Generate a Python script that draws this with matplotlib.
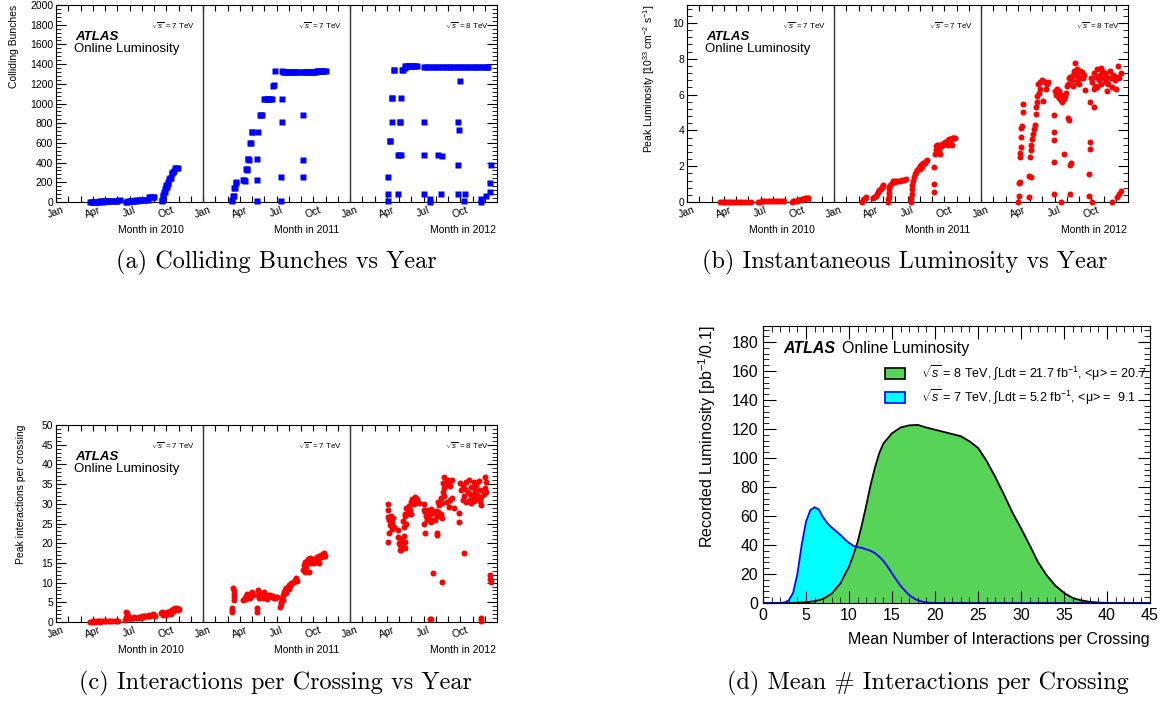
import matplotlib
matplotlib.use('Agg')
import matplotlib.pyplot as plt
import matplotlib.transforms as mtransforms
from matplotlib.ticker import MultipleLocator, FixedLocator
from matplotlib.patches import Rectangle
import numpy as np

plt.rcParams['font.family'] = 'Liberation Sans'
plt.rcParams['mathtext.fontset'] = 'custom'
plt.rcParams['mathtext.rm'] = 'Liberation Sans'
plt.rcParams['mathtext.it'] = 'Liberation Sans:italic'
plt.rcParams['mathtext.bf'] = 'Liberation Sans:bold'

#%% Dados - tempo em meses contados a partir de 1 jan 2010, pares (mes, valor)

month_names = ['Jan', '', '', 'Apr', '', '', 'Jul', '', '', 'Oct', '', '']
years = ['2010', '2011', '2012']
energies = ['7', '7', '8']

# Colliding bunches
bunches_2010 = np.array([
    (2.8, 2), (2.9, 2), (3.0, 3), (3.1, 2), (3.2, 3), (3.3, 4), (3.4, 3), (3.5, 4), (3.6, 6), (3.7, 6),
    (3.8, 4), (3.9, 6), (4.0, 8), (4.1, 6), (4.2, 8), (4.3, 10), (4.5, 8), (4.6, 12), (4.8, 13), (4.9, 10),
    (5.0, 13), (5.2, 16), (5.7, 2), (5.8, 3), (5.9, 6), (6.0, 8), (6.1, 8), (6.2, 13), (6.3, 8), (6.4, 13),
    (6.5, 16), (6.6, 13), (6.8, 16), (6.9, 25), (7.0, 16), (7.2, 25), (7.3, 25), (7.5, 25), (7.6, 48), (7.7, 48),
    (7.8, 50), (7.9, 48), (8.0, 50), (8.63, 8), (8.67, 25), (8.71, 50), (8.76, 75), (8.82, 100), (8.86, 104),
    (8.9, 135), (8.95, 150), (9.01, 175), (9.06, 150), (9.12, 186), (9.18, 204), (9.23, 237), (9.3, 248),
    (9.36, 244), (9.45, 295), (9.5, 294), (9.58, 305), (9.65, 312), (9.72, 348), (9.8, 348), (9.93, 348)])

bunches_2011 = np.array([
    (14.34, 10), (14.4, 20), (14.48, 64), (14.52, 64), (14.56, 139), (14.6, 139), (14.67, 200), (14.7, 194),
    (15.3, 223), (15.37, 223), (15.42, 214), (15.52, 332), (15.57, 332), (15.62, 324), (15.66, 433), (15.7, 433),
    (15.75, 424), (15.84, 602), (15.9, 602), (15.98, 708), (16.02, 708), (16.41, 10), (16.43, 223), (16.43, 433),
    (16.45, 708), (16.65, 883), (16.73, 883), (16.8, 883), (17.0, 1049), (17.1, 1049), (17.2, 1049), (17.3, 1049),
    (17.4, 1049), (17.5, 1049), (17.6, 1049), (17.75, 1180), (17.8, 1191), (17.85, 1327), (18.37, 10),
    (18.37, 254), (18.45, 815), (18.47, 1049), (18.45, 1330), (18.55, 1318), (18.65, 1318), (18.75, 1318),
    (18.85, 1318), (18.95, 1318), (19.05, 1318), (19.15, 1318), (19.25, 1318), (19.35, 1318), (19.45, 1318),
    (19.55, 1318), (19.65, 1318), (19.75, 1318), (20.2, 254), (20.2, 430), (20.2, 880), (20.05, 1318),
    (20.15, 1318), (20.3, 1318), (20.4, 1318), (20.5, 1318), (20.6, 1318), (20.7, 1318), (20.8, 1318),
    (20.9, 1318), (21.0, 1318), (21.1, 1318), (21.2, 1318), (21.3, 1331), (21.4, 1331), (21.5, 1331),
    (21.6, 1331), (21.7, 1331), (21.8, 1331), (21.9, 1331), (22.0, 1331)])

bunches_2012 = np.array([
    (27.08, 13), (27.1, 78), (27.13, 254), (27.27, 623), (27.3, 623), (27.4, 815), (27.42, 1059), (27.45, 1059),
    (27.56, 1340), (27.6, 1340), (27.94, 78), (27.94, 474), (28.0, 474), (28.08, 815), (28.12, 815),
    (28.16, 1059), (28.16, 474), (28.27, 1340), (28.33, 1340), (28.45, 1357), (28.5, 1380), (28.6, 1380),
    (28.7, 1380), (28.8, 1380), (28.9, 1380), (29.0, 1380), (29.1, 1380), (29.2, 1380), (29.3, 1380),
    (29.44, 1380), (30.0, 815), (30.0, 474), (30.0, 78), (30.53, 30), (30.53, 5), (31.2, 474), (31.48, 466),
    (31.43, 78), (30.0, 1374), (30.2, 1374), (30.4, 1374), (30.6, 1374), (30.8, 1374), (31.0, 1374),
    (31.2, 1374), (31.4, 1374), (31.6, 1374), (31.8, 1374), (32.0, 1374), (32.2, 1374), (32.4, 1374),
    (32.6, 1374), (32.8, 1374), (33.0, 1374), (33.2, 1374), (33.4, 1374), (33.6, 1374), (33.8, 1374),
    (34.0, 1374), (34.2, 1374), (34.4, 1374), (34.6, 1374), (34.8, 1374), (35.0, 1374), (35.2, 1374),
    (35.3, 1374), (32.84, 808), (32.9, 728), (32.84, 379), (32.84, 78), (33.0, 1232), (33.39, 78),
    (33.33, 10), (34.69, 5), (34.7, 30), (35.08, 64), (35.45, 101), (35.45, 190), (35.48, 376)])

# Peak luminosity [1e33 cm-2 s-1]
lumi_2010 = np.array([
    (2.7, 0.0), (2.85, 0.0), (3.0, 0.0), (3.1, 0.01), (3.25, 0.0), (3.4, 0.01), (3.55, 0.01), (3.7, 0.01),
    (3.85, 0.01), (4.0, 0.01), (4.15, 0.02), (4.3, 0.02), (4.5, 0.02), (4.7, 0.02), (5.0, 0.02), (5.25, 0.02),
    (5.8, 0.02), (5.95, 0.02), (6.1, 0.03), (6.25, 0.03), (6.4, 0.03), (6.6, 0.03), (6.8, 0.03), (6.95, 0.04),
    (7.1, 0.04), (7.3, 0.04), (7.45, 0.04), (7.6, 0.04), (7.8, 0.04), (7.95, 0.05), (8.55, 0.02), (8.65, 0.04),
    (8.75, 0.06), (8.85, 0.07), (8.95, 0.08), (9.05, 0.1), (9.15, 0.12), (9.25, 0.12), (9.35, 0.15),
    (9.45, 0.15), (9.55, 0.17), (9.65, 0.2), (9.75, 0.2), (9.85, 0.21), (9.9, 0.2)])

lumi_2011 = np.array([
    (14.26, 0.02), (14.35, 0.1), (14.45, 0.15), (14.55, 0.22), (14.65, 0.3), (15.2, 0.2), (15.3, 0.3),
    (15.4, 0.35), (15.5, 0.45), (15.6, 0.55), (15.7, 0.65), (15.8, 0.75), (15.9, 0.85), (16.0, 0.95),
    (16.42, 0.0), (16.44, 0.15), (16.45, 0.3), (16.47, 0.5), (16.5, 0.7), (16.52, 0.85), (16.6, 0.95),
    (16.7, 1.05), (16.8, 1.15), (16.9, 1.2), (17.0, 1.1), (17.1, 1.15), (17.25, 1.2), (17.4, 1.2),
    (17.55, 1.25), (17.7, 1.25), (17.85, 1.3), (18.3, 0.0), (18.32, 0.2), (18.34, 0.45), (18.36, 0.75),
    (18.4, 0.95), (18.45, 1.2), (18.5, 1.4), (18.6, 1.55), (18.7, 1.7), (18.8, 1.8), (18.9, 1.9), (19.0, 2.0),
    (19.1, 2.05), (19.2, 2.1), (19.3, 2.15), (19.4, 2.2), (19.5, 2.3), (19.57, 2.35), (19.0, 1.85),
    (19.2, 1.95), (20.19, 0.55), (20.19, 1.0), (20.19, 1.97), (20.25, 2.7), (20.3, 2.9), (20.35, 3.1),
    (20.4, 3.2), (20.5, 3.2), (20.6, 2.9), (20.65, 2.7), (20.7, 3.1), (20.8, 3.25), (20.9, 3.2), (21.0, 3.3),
    (21.1, 3.35), (21.2, 3.3), (21.3, 3.45), (21.4, 3.5), (21.5, 3.4), (21.6, 3.55), (21.7, 3.6), (21.8, 3.6),
    (21.88, 3.55), (21.6, 3.2), (21.3, 3.2)])

lumi_2012 = np.array([
    (27.05, 0.02), (27.08, 0.33), (27.12, 1.04), (27.16, 1.13), (27.2, 2.53), (27.22, 2.72), (27.25, 3.05),
    (27.28, 3.65), (27.3, 4.12), (27.33, 4.25), (27.4, 5.05), (27.42, 5.47), (27.92, 0.27), (27.92, 1.45),
    (28.1, 1.4), (28.0, 2.5), (28.05, 2.9), (28.1, 3.2), (28.14, 3.5), (28.27, 3.8), (28.33, 4.1), (28.41, 4.3),
    (28.45, 4.9), (28.5, 5.3), (28.55, 5.6), (28.6, 5.9), (28.7, 6.1), (28.8, 6.3), (28.65, 6.6), (28.8, 6.7),
    (28.95, 6.8), (29.1, 6.75), (29.25, 6.7), (29.4, 6.6), (29.47, 6.7), (29.1, 5.65), (29.3, 6.3),
    (29.99, 4.85), (29.99, 3.9), (29.99, 3.45), (29.99, 2.24), (29.99, 0.47), (30.05, 6.2), (30.15, 6.0),
    (30.25, 5.9), (30.35, 5.8), (30.45, 5.9), (30.55, 5.7), (30.65, 5.6), (30.75, 5.75), (30.85, 5.9),
    (30.95, 6.1), (30.2, 6.3), (30.4, 6.2), (30.6, 6.0), (30.5, 0.02), (30.8, 2.66), (31.13, 4.67),
    (31.2, 4.6), (31.27, 2.07), (31.35, 2.2), (31.3, 0.47), (31.0, 6.45), (31.1, 6.6), (31.2, 6.9), (31.3, 7.0),
    (31.4, 6.8), (31.5, 7.1), (31.6, 7.3), (31.67, 7.75), (31.75, 7.2), (31.85, 7.4), (31.95, 7.0),
    (32.05, 7.3), (32.15, 6.9), (32.22, 7.28), (32.3, 6.9), (32.4, 7.1), (31.5, 6.5), (31.8, 6.7), (32.0, 6.6),
    (32.49, 6.26), (32.9, 5.6), (32.9, 3.35), (32.9, 2.98), (32.85, 1.58), (32.85, 0.34), (33.0, 6.9),
    (33.1, 0.0), (33.1, 6.7), (33.2, 7.2), (33.3, 6.5), (33.4, 7.0), (33.5, 7.4), (33.6, 6.8), (33.7, 7.1),
    (33.8, 6.6), (33.9, 7.3), (34.0, 6.9), (34.1, 7.2), (34.2, 6.7), (34.3, 7.0), (34.4, 6.6), (34.5, 7.3),
    (34.6, 6.9), (34.7, 6.4), (34.8, 7.1), (34.9, 6.8), (35.0, 6.3), (35.1, 7.0), (35.2, 7.6), (35.3, 6.9),
    (35.4, 7.2), (33.2, 6.3), (33.5, 6.4), (33.8, 7.5), (34.3, 6.2), (34.7, 0.0), (35.1, 0.3), (35.3, 0.45),
    (35.45, 0.6), (33.2, 5.3)])

# Peak interactions per crossing
mu_2010 = np.array([
    (2.8, 0.1), (2.9, 0.1), (3.0, 0.2), (3.1, 0.1), (3.2, 0.2), (3.3, 0.1), (3.4, 0.2), (3.5, 0.2), (3.6, 0.1),
    (3.7, 0.2), (3.8, 0.2), (4.0, 0.2), (4.1, 0.3), (4.3, 0.3), (4.4, 0.2), (4.6, 0.3), (4.8, 0.3), (5.0, 0.3),
    (5.05, 0.2), (5.6, 0.6), (5.7, 1.2), (5.75, 2.6), (5.8, 2.2), (5.85, 1.5), (5.9, 1.0), (6.0, 1.1),
    (6.1, 1.0), (6.2, 1.1), (6.3, 0.9), (6.4, 1.2), (6.6, 1.0), (6.8, 1.3), (6.9, 1.1), (7.0, 1.4), (7.1, 1.3),
    (7.2, 1.5), (7.3, 1.4), (7.4, 1.6), (7.5, 1.5), (7.6, 1.7), (7.7, 1.6), (7.8, 1.9), (7.9, 2.0), (8.0, 1.8),
    (8.1, 1.6), (8.6, 2.2), (8.65, 2.6), (8.7, 1.9), (8.8, 2.4), (8.85, 2.1), (8.95, 2.3), (9.0, 1.9),
    (9.1, 2.5), (9.2, 2.2), (9.3, 2.8), (9.35, 2.1), (9.45, 3.0), (9.55, 3.3), (9.6, 2.8), (9.7, 3.6),
    (9.75, 3.2), (9.85, 3.5), (9.95, 3.1), (10.0, 3.4)])

mu_2011 = np.array([
    (14.34, 3.5), (14.36, 3.0), (14.38, 2.6), (14.48, 8.6), (14.5, 7.9), (14.52, 7.2), (14.54, 6.4),
    (14.56, 5.6), (15.3, 5.6), (15.4, 6.2), (15.5, 6.6), (15.6, 7.0), (15.7, 6.5), (15.8, 7.2), (15.9, 7.0),
    (16.0, 7.7), (16.1, 6.8), (15.5, 5.9), (15.8, 6.0), (16.4, 3.5), (16.42, 2.6), (16.45, 8.1), (16.5, 6.8),
    (16.6, 7.4), (16.7, 6.5), (16.8, 7.0), (16.9, 6.2), (17.0, 7.6), (17.1, 6.5), (17.2, 5.8), (16.55, 6.0),
    (17.3, 6.8), (17.4, 6.5), (17.5, 6.9), (17.6, 6.4), (17.7, 6.7), (17.8, 6.2), (17.9, 6.0), (18.0, 6.3),
    (18.3, 3.7), (18.35, 4.5), (18.4, 5.2), (18.45, 6.0), (18.5, 6.8), (18.6, 7.5), (18.7, 8.0), (18.8, 8.6),
    (18.9, 9.0), (19.0, 9.5), (19.1, 9.2), (19.2, 9.8), (19.3, 10.0), (19.4, 10.2), (19.5, 10.6), (19.6, 11.1),
    (19.65, 10.3), (18.5, 5.5), (18.8, 7.3), (19.0, 8.5), (20.2, 13.2), (20.25, 14.5), (20.3, 15.2),
    (20.35, 12.7), (20.4, 14.0), (20.45, 15.5), (20.5, 15.0), (20.55, 16.0), (20.6, 15.3), (20.65, 12.7),
    (20.7, 16.2), (20.8, 15.0), (20.9, 15.6), (21.0, 16.0), (21.1, 15.5), (21.2, 16.3), (21.3, 16.6),
    (21.4, 16.0), (21.5, 16.8), (21.6, 17.0), (21.7, 16.5), (21.8, 17.2), (21.9, 17.4), (21.96, 16.8),
    (21.5, 14.9), (21.1, 14.9)])

mu_2012 = np.array([
    (27.08, 20.4), (27.1, 29.9), (27.12, 28.4), (27.1, 26.6), (27.2, 25.8), (27.3, 24.6), (27.4, 25.2),
    (27.5, 26.5), (27.6, 24.2), (27.2, 22.5), (27.35, 27.0), (27.45, 23.5), (27.9, 23.3), (27.95, 21.5),
    (28.0, 20.0), (28.05, 18.3), (28.1, 19.5), (28.15, 21.0), (28.2, 18.3), (28.25, 20.5), (28.3, 19.0),
    (28.4, 21.8), (28.45, 18.8), (28.5, 20.2), (28.35, 25.6), (28.4, 24.0), (28.45, 26.8), (28.5, 27.5),
    (28.55, 25.0), (28.6, 28.9), (28.7, 27.8), (28.8, 29.5), (28.9, 28.5), (29.0, 30.5), (29.1, 31.3),
    (29.2, 30.0), (29.3, 31.8), (29.4, 30.8), (29.5, 31.2), (29.6, 30.2), (28.75, 27.3), (29.0, 27.3),
    (30.0, 30.0), (30.05, 28.5), (30.0, 25.0), (30.1, 22.7), (30.1, 28.0), (30.2, 27.0), (30.3, 28.4),
    (30.4, 26.5), (30.5, 27.3), (30.6, 28.8), (30.7, 26.0), (30.8, 27.7), (30.9, 25.9), (31.0, 28.2),
    (31.1, 27.0), (31.2, 28.0), (31.3, 26.8), (31.4, 27.5), (31.5, 26.3), (30.3, 25.8), (30.6, 25.4),
    (30.8, 12.5), (31.08, 22.5), (31.12, 22.0), (31.48, 10.2), (30.53, 0.7), (30.6, 0.7), (31.2, 30.5),
    (31.3, 29.8), (31.4, 31.5), (31.5, 30.3), (31.6, 33.1), (31.7, 32.0), (31.6, 35.2), (31.7, 34.0),
    (31.8, 35.6), (31.9, 34.8), (32.0, 36.0), (32.1, 35.2), (32.2, 34.6), (32.3, 36.0), (31.65, 36.9),
    (31.9, 30.5), (32.1, 29.3), (32.2, 31.0), (32.3, 31.4), (32.5, 29.0), (32.9, 27.6), (32.92, 25.5),
    (33.0, 35.2), (33.1, 33.5), (33.2, 34.8), (33.3, 32.0), (33.4, 33.8), (33.5, 35.5), (33.6, 33.0),
    (33.7, 36.0), (33.8, 32.5), (33.9, 34.2), (34.0, 31.5), (34.1, 35.6), (34.2, 33.4), (34.3, 34.8),
    (34.4, 32.2), (34.5, 35.9), (34.6, 33.6), (34.7, 31.8), (33.2, 31.0), (33.5, 30.5), (33.8, 31.0),
    (34.1, 30.8), (34.4, 31.4), (34.6, 30.6), (34.2, 32.5), (33.9, 30.2), (33.3, 17.4), (34.7, 29.7),
    (35.0, 36.9), (35.05, 34.0), (35.1, 33.0), (34.9, 32.5), (35.1, 35.5), (34.7, 0.3), (34.72, 0.9),
    (35.4, 11.9), (35.45, 10.9), (35.5, 10.2)])

# Distribuicao de <mu> (luminosidade gravada por 0.1)
mu8_x = [0, 1, 2, 3, 4, 5, 6, 7, 8, 9, 10, 10.5, 11, 11.5, 12, 12.5, 13, 13.5, 14, 15, 16, 17, 18, 19, 20,
         21, 22, 23, 24, 25, 26, 27, 28, 29, 30, 31, 32, 33, 34, 35, 36, 37, 38, 39, 40, 41, 45]
mu8_y = [0, 0, 0, 0, 0.2, 0.5, 1.2, 2.8, 6.5, 13.5, 25, 33, 42, 54, 67, 81, 93, 103, 110, 117, 121, 122.5,
         122.8, 121, 119.5, 118, 116.5, 115, 111.5, 107, 98, 87, 75, 62.5, 51.5, 40, 28, 19, 12, 7, 3.5, 1.8,
         0.8, 0.3, 0.1, 0, 0]
mu7_x = [0, 1, 2, 2.5, 3, 3.5, 4, 4.5, 5, 5.5, 6, 6.5, 7, 7.5, 8, 8.5, 9, 9.5, 10, 10.5, 11, 11.5, 12,
         12.5, 13, 13.5, 14, 14.5, 15, 15.5, 16, 16.5, 17, 17.5, 18, 18.5, 19, 19.5, 20, 45]
mu7_y = [0, 0, 0.1, 0.4, 1.8, 7, 20, 40, 56, 64, 66, 64.5, 59, 55, 52, 49.5, 47, 44, 41.5, 39.5, 38.5, 38,
         37, 36, 34.5, 32, 29, 25, 20.5, 16, 11.8, 8.5, 5.5, 3.4, 1.8, 0.9, 0.4, 0.15, 0.05, 0]

legend_8 = r'$\sqrt{s}$ = 8 TeV, $\int$Ldt = 21.7 fb$^{-1}$, <μ> = 20.7'
legend_7 = r'$\sqrt{s}$ = 7 TeV, $\int$Ldt = 5.2 fb$^{-1}$, <μ> =  9.1'

captions = ['(a) Colliding Bunches vs Year', '(b) Instantaneous Luminosity vs Year',
            '(c) Interactions per Crossing vs Year', '(d) Mean # Interactions per Crossing']

#%% Figura

W, H = 1164, 702
fig = plt.figure(figsize=(W / 100, H / 100), dpi=100)


def px_rect(x0, y0, x1, y1):
    return [x0 / W, 1 - y1 / H, (x1 - x0) / W, (y1 - y0) / H]


def painel_anos(rect, ymax, ymaj, ymin_step, ylabel, ylab_x, series, marker, color):
    ax = fig.add_axes(rect)
    ax.set_xlim(0, 36)
    ax.set_ylim(0, ymax)
    ax.xaxis.set_major_locator(FixedLocator(range(36)))
    ax.set_xticklabels([month_names[i % 12] for i in range(36)])
    ax.yaxis.set_major_locator(MultipleLocator(ymaj))
    ax.yaxis.set_minor_locator(MultipleLocator(ymin_step))
    ax.tick_params(axis='x', which='major', direction='in', length=4, top=True,
                   labelsize=7.5, labelrotation=20, pad=2)
    ax.tick_params(axis='y', which='major', direction='in', length=7, right=True, labelsize=7.5, pad=2)
    ax.tick_params(axis='y', which='minor', direction='in', length=3.5, right=True)
    for sp in ax.spines.values():
        sp.set_linewidth(0.8)
    for m in (12, 24):
        ax.axvline(m, color='#333333', lw=1)
    for d in series:
        ax.plot(d[:, 0], d[:, 1], marker, color=color, ms=4.3, mec='none', clip_on=False, zorder=3)
    trans = mtransforms.blended_transform_factory(ax.transData, ax.transAxes)
    for i in range(3):
        ax.text(12 * i + 11.4, 0.893, r'$\sqrt{s}$ = %s TeV' % energies[i], transform=trans,
                ha='right', va='center', fontsize=5.8)
    for xr, yr in zip([10.45, 23.1, 35.9], years):
        ax.text(xr, -0.142, 'Month in ' + yr, transform=trans, ha='right', va='center', fontsize=7.5)
    ax.text(0.043, 0.84, 'ATLAS', transform=ax.transAxes, fontsize=9.5, weight='bold',
            style='italic', va='center')
    ax.text(0.041, 0.777, 'Online Luminosity', transform=ax.transAxes, fontsize=9.5, va='center')
    ax.set_ylabel(ylabel, fontsize=7.5, loc='top')
    ax.yaxis.set_label_coords(ylab_x, 1.0)
    return ax


ax_a = painel_anos(px_rect(56, 5, 497, 202), 2000, 200, 40, 'Colliding Bunches', -0.085,
                   [bunches_2010, bunches_2011, bunches_2012], 's', '#0000ff')
ax_b = painel_anos(px_rect(687, 5, 1128, 202), 11, 2, 0.4,
                   r'Peak Luminosity [10$^{33}$ cm$^{-2}$ s$^{-1}$]', -0.068,
                   [lumi_2010, lumi_2011, lumi_2012], 'o', '#ff0000')
ax_c = painel_anos(px_rect(56, 425, 497, 622), 50, 5, 1, 'Peak interactions per crossing', -0.068,
                   [mu_2010, mu_2011, mu_2012], 'o', '#ff0000')

# Painel (d)
ax_d = fig.add_axes(px_rect(763, 326, 1150, 603))
ax_d.fill_between(mu7_x, mu7_y, color='#00ffff', lw=0)
ax_d.fill_between(mu8_x, mu8_y, color='#57d357', lw=0)
ax_d.plot(mu8_x, mu8_y, color='black', lw=1.3)
ax_d.plot(mu7_x, mu7_y, color='#0000ff', lw=1.3)
ax_d.set_xlim(0, 45)
ax_d.set_ylim(0, 191)
ax_d.xaxis.set_major_locator(MultipleLocator(5))
ax_d.xaxis.set_minor_locator(MultipleLocator(1))
ax_d.yaxis.set_major_locator(MultipleLocator(20))
ax_d.yaxis.set_minor_locator(MultipleLocator(4))
ax_d.tick_params(which='both', direction='in', top=True, right=True, labelsize=11.5)
ax_d.tick_params(which='major', length=9)
ax_d.tick_params(which='minor', length=4.5)
ax_d.set_xlabel('Mean Number of Interactions per Crossing', fontsize=11.5, loc='right')
ax_d.xaxis.set_label_coords(1.0, -0.105)
ax_d.set_ylabel(r'Recorded Luminosity [pb$^{-1}$/0.1]', fontsize=11.5, loc='top')
ax_d.yaxis.set_label_coords(-0.115, 1.0)
ax_d.text(0.052, 0.92, 'ATLAS', transform=ax_d.transAxes, fontsize=11.5, weight='bold',
          style='italic', va='center')
ax_d.text(0.205, 0.92, 'Online Luminosity', transform=ax_d.transAxes, fontsize=11.5, va='center')
for yy, fc, ec, lab in [(0.83, '#57d357', 'black', legend_8), (0.742, '#00ffff', '#0000ff', legend_7)]:
    ax_d.add_patch(Rectangle((0.315, yy - 0.02), 0.052, 0.04, transform=ax_d.transAxes,
                             facecolor=fc, edgecolor=ec, lw=1.2))
    ax_d.text(0.408, yy, lab, transform=ax_d.transAxes, fontsize=9, va='center')

# Legendas das figuras
for (xc, yc), cap in zip([(276, 262), (905, 262), (275, 683), (928, 683)], captions):
    fig.text(xc / W, 1 - yc / H, cap, family='cmr10', fontsize=17.5, ha='center', va='center')

fig.savefig('out.png', dpi=100)
